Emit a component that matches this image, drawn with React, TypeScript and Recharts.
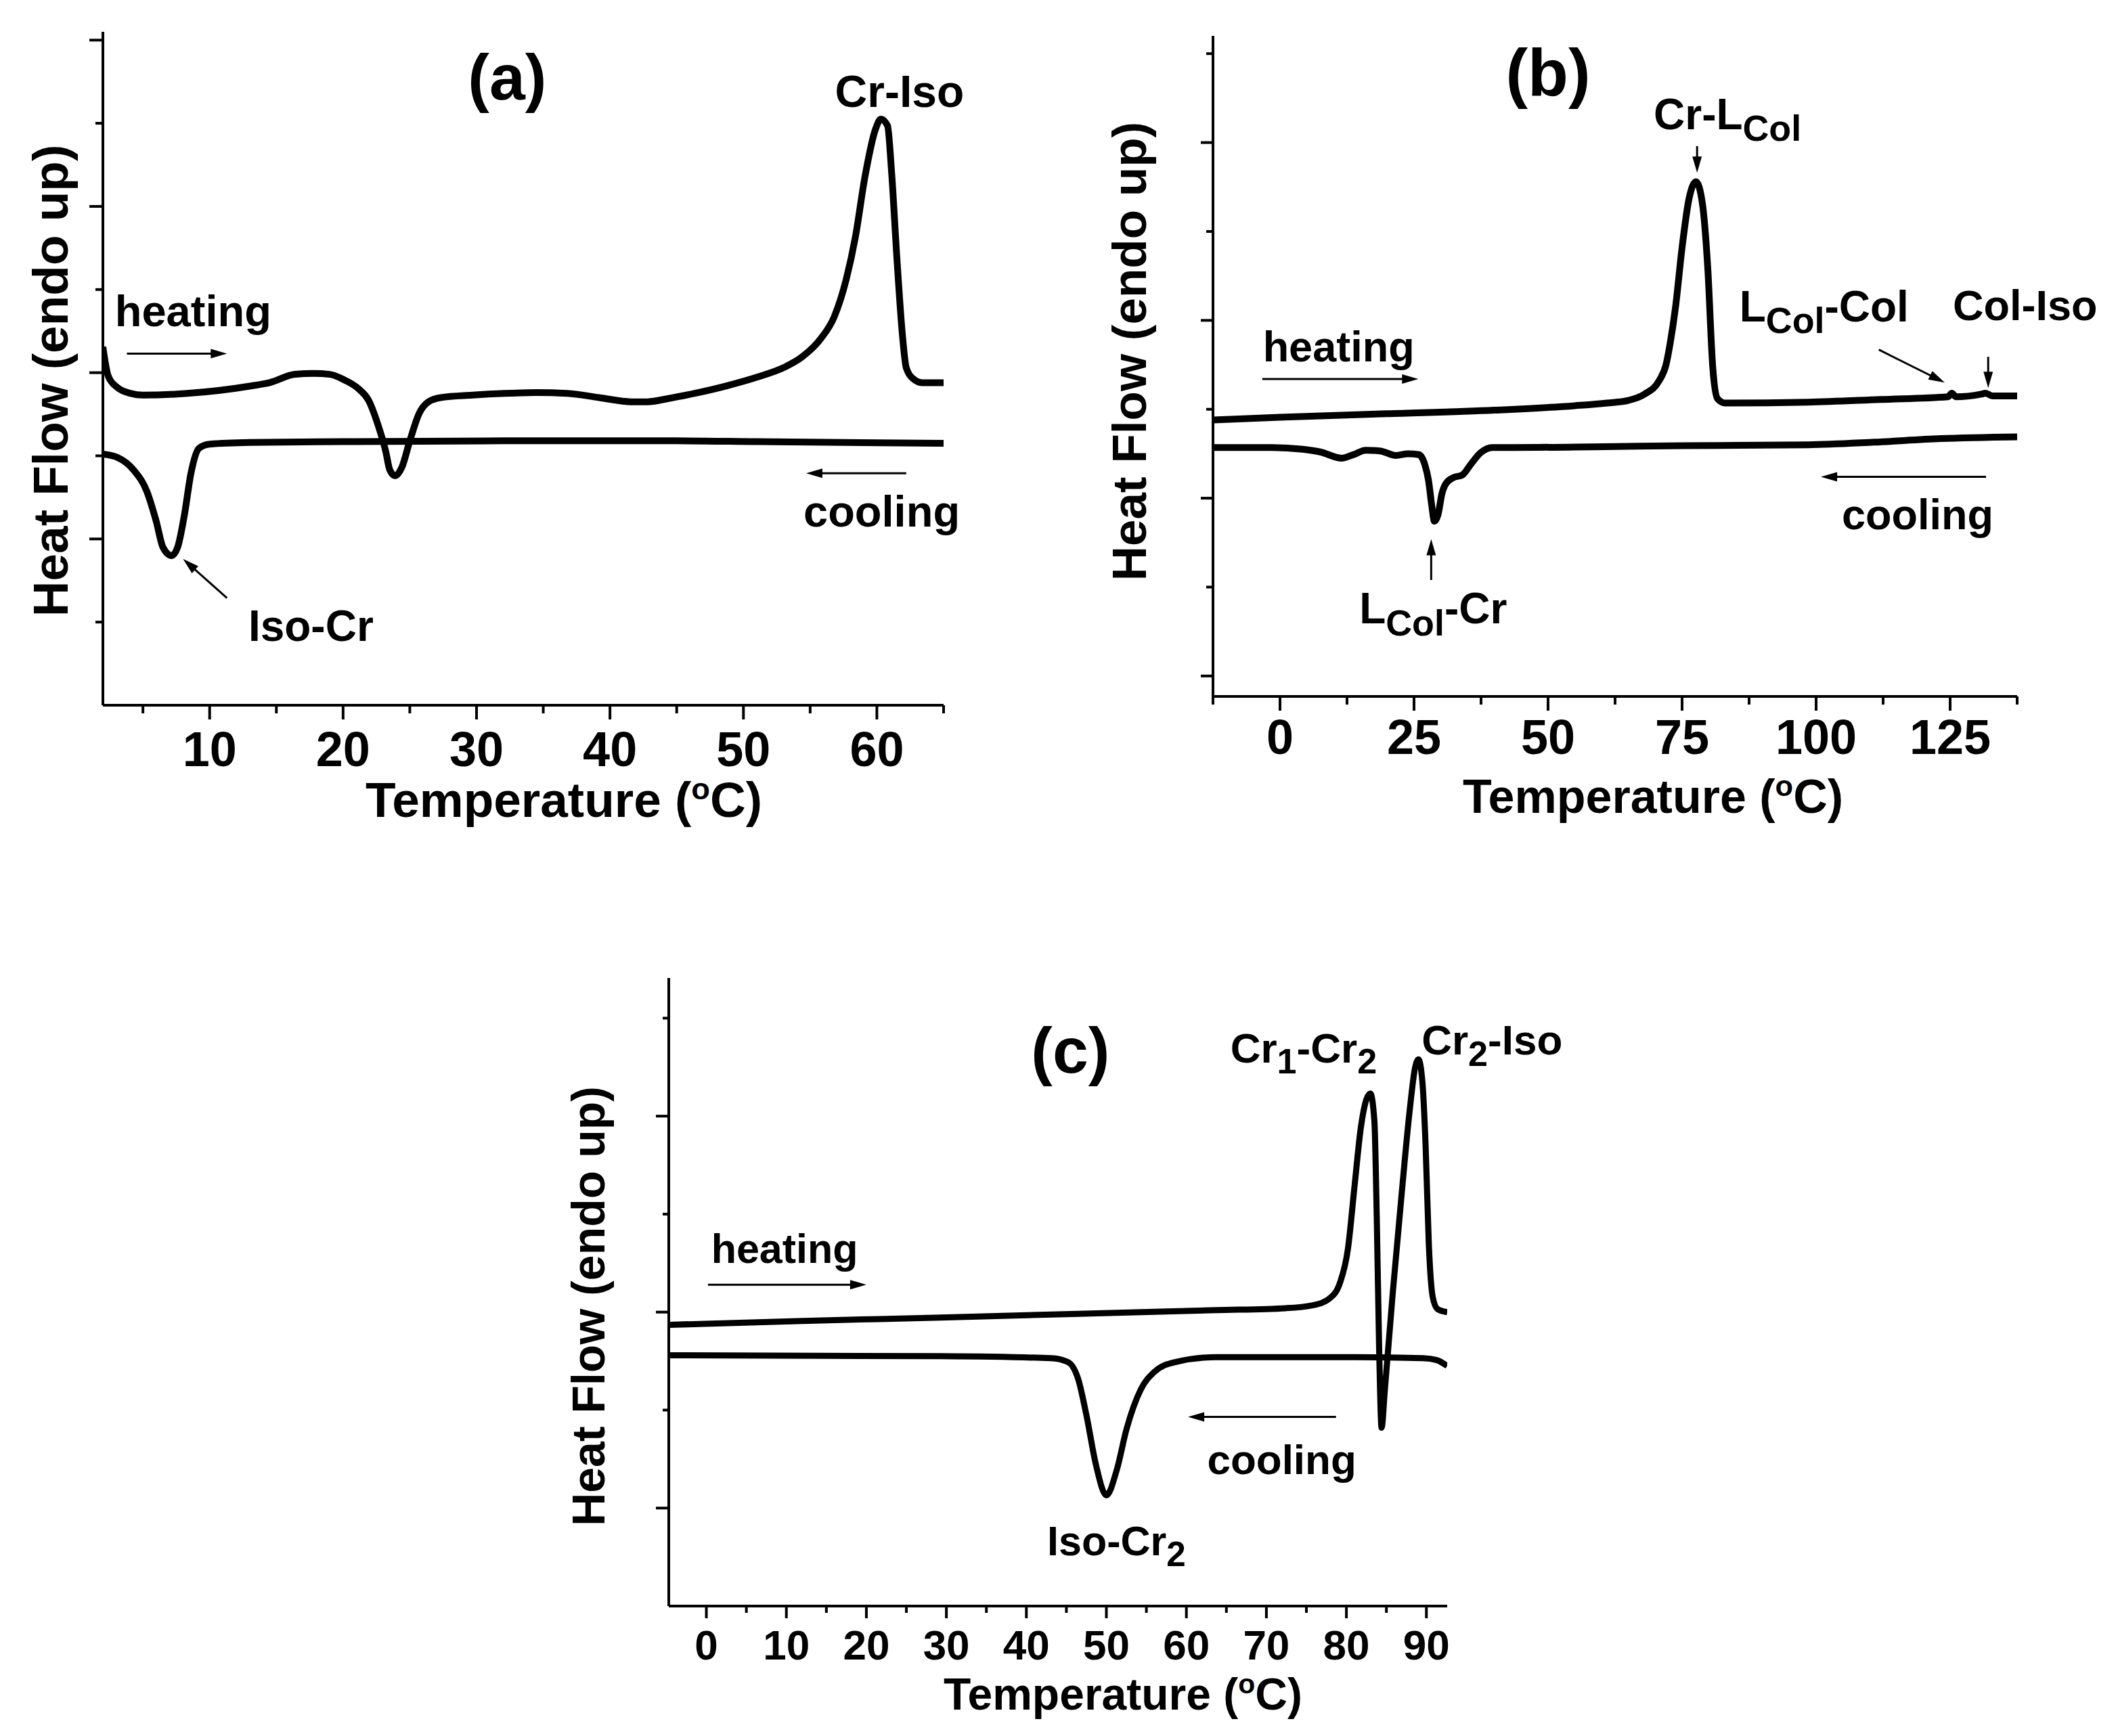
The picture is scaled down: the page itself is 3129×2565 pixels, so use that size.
import React from "react";
import { LineChart, Line, XAxis, YAxis, ReferenceDot, ReferenceLine } from "recharts";

const FONT = "'Liberation Sans', Arial, Helvetica, sans-serif";

// ---------- panel (a) ----------
const aHeatT = [2, 2.4, 3.1, 4.1, 5, 8.3, 13.1, 14.5, 16.4, 17.8, 19, 20, 21.2, 21.9, 22.6, 23.2, 23.5, 23.9, 24.4, 25, 25.7, 26.4, 27.3, 29.7, 32.1, 34.5, 36.8, 39.2, 41.6, 42.8, 44.4, 46.3, 48.7, 51.1, 53, 54.4, 55.8, 56.8, 57.7, 58.4, 59.1, 59.9, 60.3, 60.8, 61.1, 61.5, 61.9, 62.2, 62.7, 63.4, 65];
const aHeatHF = [4.31, 3.96, 3.82, 3.75, 3.73, 3.75, 3.84, 3.88, 3.98, 3.99, 3.98, 3.92, 3.8, 3.67, 3.38, 3.05, 2.83, 2.76, 2.86, 3.18, 3.51, 3.65, 3.7, 3.73, 3.75, 3.76, 3.75, 3.7, 3.65, 3.65, 3.69, 3.75, 3.84, 3.95, 4.06, 4.19, 4.41, 4.67, 5.12, 5.64, 6.35, 6.93, 7.05, 6.97, 6.42, 5.38, 4.48, 4.06, 3.93, 3.88, 3.88];
const aCoolT = [2, 3.1, 4.3, 5.3, 6.0, 6.5, 7.15, 7.6, 8.1, 8.6, 9.2, 10, 13, 20, 32, 45, 51, 65];
const aCoolHF = [3.02, 2.98, 2.83, 2.57, 2.21, 1.9, 1.8, 1.9, 2.28, 2.79, 3.09, 3.14, 3.16, 3.17, 3.18, 3.18, 3.17, 3.15];
const aXTicks = [5, 10, 15, 20, 25, 30, 35, 40, 45, 50, 55, 60, 65];
const aXLabels = [10, 20, 30, 40, 50, 60];
const aYTicks = [1, 2, 3, 4, 5, 6, 7, 8];

// ---------- panel (b) ----------
const bHeatT = [-12.5, 0, 20, 40, 55, 61, 65, 68, 70.7, 72, 72.8, 73.8, 75, 76.3, 77.6, 78.8, 79.8, 80.7, 81.6, 83, 98.5, 112, 124.6, 125.3, 126.1, 130.8, 131.6, 132.9, 137.5];
const bHeatHF = [2.88, 2.91, 2.95, 2.99, 3.04, 3.07, 3.1, 3.17, 3.32, 3.5, 3.75, 4.16, 4.82, 5.37, 5.56, 5.31, 4.58, 3.49, 3.12, 3.07, 3.08, 3.11, 3.14, 3.18, 3.14, 3.17, 3.18, 3.15, 3.15];
const bCoolT = [-12.5, -1.5, 4.2, 7.5, 11.5, 13.7, 16.0, 18.8, 21.6, 23.9, 25.9, 27.0, 27.7, 28.3, 28.8, 29.5, 30.2, 30.9, 32.3, 34.0, 35.7, 37.4, 39.6, 43.6, 60.5, 75.6, 98.5, 110.9, 123.2, 137.5];
const bCoolHF = [2.57, 2.57, 2.55, 2.52, 2.45, 2.49, 2.54, 2.53, 2.48, 2.5, 2.49, 2.38, 2.2, 1.92, 1.74, 1.82, 2.05, 2.16, 2.23, 2.26, 2.39, 2.51, 2.57, 2.57, 2.58, 2.59, 2.6, 2.63, 2.67, 2.69];
const bXTicks = [-12.5, 0, 12.5, 25, 37.5, 50, 62.5, 75, 87.5, 100, 112.5, 125, 137.5];
const bXLabels = [0, 25, 50, 75, 100, 125];
const bYTicks = [0, 1, 2, 3, 4, 5, 6, 7];

// ---------- panel (c) ----------
const cHeatT = [-4.7, 12.1, 29.3, 46.5, 63.7, 72.4, 75.8, 77.9, 79.2, 80.2, 81.0, 81.8, 82.5, 83.0, 83.5, 83.8, 84.1, 84.4, 84.8, 85.8, 86.9, 87.9, 88.6, 89.0, 89.5, 89.9, 90.3, 90.8, 91.4, 92.6];
const cHeatHF = [2.87, 2.91, 2.945, 2.983, 3.02, 3.04, 3.07, 3.14, 3.3, 3.65, 4.27, 4.88, 5.17, 5.23, 4.95, 3.95, 2.6, 1.82, 2.2, 3.2, 4.2, 5.05, 5.5, 5.58, 5.35, 4.7, 3.7, 3.15, 3.03, 3.0];
const cCoolT = [-4.7, 29.3, 43.1, 45.2, 46.5, 47.5, 48.7, 50.0, 51.3, 52.5, 54.3, 56.0, 58.6, 63.7, 81.0, 89.6, 91.3, 92.6];
const cCoolHF = [2.56, 2.55, 2.53, 2.49, 2.31, 1.95, 1.44, 1.13, 1.39, 1.8, 2.21, 2.39, 2.49, 2.54, 2.54, 2.53, 2.51, 2.45];
const cXTicks = [0, 5, 10, 15, 20, 25, 30, 35, 40, 45, 50, 55, 60, 65, 70, 75, 80, 85, 90];
const cXLabels = [0, 10, 20, 30, 40, 50, 60, 70, 80, 90];
const cYTicks = [1, 2, 3, 4, 5, 6];

type Pt = { t: number; hf: number };
const zip = (t: number[], v: number[]): Pt[] => t.map((x, i) => ({ t: x, hf: v[i] }));

// text pieces: "_x" = subscript, "^x" = superscript
type Note = { t: number; v: number; text: string[]; size: number; anchor?: "start" | "middle" };
type Arrow = [number, number, number, number];

function RichText({ x, y, text, size, anchor = "start", rotate = false }: any) {
  let shift = 0;
  return (
    <text
      x={x}
      y={y}
      textAnchor={anchor}
      fontFamily={FONT}
      fontWeight="bold"
      fontSize={size}
      fill="#000"
      transform={rotate ? `rotate(-90 ${x} ${y})` : undefined}
    >
      {text.map((part: string, i: number) => {
        const sub = part.startsWith("_");
        const sup = part.startsWith("^");
        const target = sub ? size * 0.27 : sup ? -size * 0.36 : 0;
        const dy = target - shift;
        shift = target;
        return (
          <tspan key={i} dy={dy} fontSize={sub ? size * 0.84 : sup ? size * 0.62 : size}>
            {sub || sup ? part.slice(1) : part}
          </tspan>
        );
      })}
    </text>
  );
}

const arrowShape = (props: any) => {
  const { x1, y1, x2, y2 } = props;
  const dx = x2 - x1;
  const dy = y2 - y1;
  const len = Math.hypot(dx, dy) || 1;
  const ux = dx / len;
  const uy = dy / len;
  const hl = 24;
  const hw = 7;
  const bx = x2 - ux * hl;
  const by = y2 - uy * hl;
  return (
    <g>
      <line x1={x1} y1={y1} x2={bx + ux * 2} y2={by + uy * 2} stroke="#000" strokeWidth={3} />
      <polygon points={`${x2},${y2} ${bx - uy * hw},${by + ux * hw} ${bx + uy * hw},${by - ux * hw}`} fill="#000" />
    </g>
  );
};

function Panel(p: any) {
  const xTick = (props: any) => {
    const { x, y, payload } = props;
    const major = p.xLabels.includes(payload.value);
    return (
      <g>
        <line x1={x} x2={x} y1={y} y2={y + (major ? p.xLen[0] : p.xLen[1])} stroke="#000" strokeWidth={4} />
        {major && (
          <text x={x} y={y + p.tickDy} textAnchor="middle" fontFamily={FONT} fontWeight="bold" fontSize={p.tickFont} fill="#000">
            {payload.value}
          </text>
        )}
      </g>
    );
  };
  const yTick = (props: any) => {
    const { x, y, payload } = props;
    const long = Math.abs(payload.value % 2) === p.yLongParity;
    return <line x1={x - (long ? p.yLen[0] : p.yLen[1])} x2={x} y1={y} y2={y} stroke="#000" strokeWidth={4} />;
  };
  const xTitle = (lp: any) => {
    const vb = lp.viewBox;
    return <RichText x={vb.x + vb.width / 2 + p.titleDx} y={vb.y + p.titleDy} text={["Temperature (", "^o", "C)"]} size={p.titleFont} anchor="middle" />;
  };
  const yTitle = (lp: any) => {
    const vb = lp.viewBox;
    return <RichText x={p.yTitleX} y={vb.y + vb.height / 2 + p.yTitleDy} text={["Heat Flow (endo up)"]} size={p.yTitleFont} anchor="middle" rotate />;
  };
  return (
    <div style={{ position: "absolute", left: p.left, top: p.top }}>
      <LineChart width={p.width} height={p.height} margin={p.margin}>
        <XAxis
          type="number"
          dataKey="t"
          domain={p.xDomain}
          ticks={p.xTicks}
          interval={0}
          allowDataOverflow
          tickSize={0}
          tickMargin={0}
          tickLine={false}
          axisLine={{ stroke: "#000", strokeWidth: 4 }}
          tick={xTick}
          height={p.height - p.axisY}
          label={xTitle}
        />
        <YAxis
          type="number"
          domain={p.yDomain}
          ticks={p.yTicks}
          interval={0}
          allowDataOverflow
          tickSize={0}
          tickMargin={0}
          tickLine={false}
          axisLine={{ stroke: "#000", strokeWidth: 4 }}
          tick={yTick}
          width={p.yAxisWidth}
          label={yTitle}
        />
        <Line data={p.heat} dataKey="hf" type="monotone" stroke="#000" strokeWidth={p.lineW} strokeLinejoin="round" dot={false} activeDot={false} isAnimationActive={false} />
        <Line data={p.cool} dataKey="hf" type="monotone" stroke="#000" strokeWidth={p.lineW} strokeLinejoin="round" dot={false} activeDot={false} isAnimationActive={false} />
        {p.arrows.map((a: Arrow, i: number) => (
          <ReferenceLine key={"ar" + i} segment={[{ x: a[0], y: a[1] }, { x: a[2], y: a[3] }]} ifOverflow="visible" shape={arrowShape} />
        ))}
        {p.notes.map((n: Note, i: number) => (
          <ReferenceDot
            key={"nt" + i}
            x={n.t}
            y={n.v}
            r={0}
            ifOverflow="visible"
            shape={(dp: any) => <RichText x={dp.cx} y={dp.cy} text={n.text} size={n.size} anchor={n.anchor || "start"} />}
          />
        ))}
      </LineChart>
    </div>
  );
}

const aNotes: Note[] = [
  { t: 32.3, v: 7.29, text: ["(a)"], size: 95, anchor: "middle" },
  { t: 61.7, v: 7.2, text: ["Cr-Iso"], size: 66, anchor: "middle" },
  { t: 2.9, v: 4.56, text: ["heating"], size: 65 },
  { t: 54.5, v: 2.15, text: ["cooling"], size: 65 },
  { t: 12.9, v: 0.77, text: ["Iso-Cr"], size: 64 },
];
const aArrows: Arrow[] = [
  [3.8, 4.23, 11.3, 4.23],
  [62.2, 2.79, 54.7, 2.79],
  [11.3, 1.29, 8.0, 1.76],
];

const bNotes: Note[] = [
  { t: 50.0, v: 6.53, text: ["(b)"], size: 98, anchor: "middle" },
  { t: 69.7, v: 6.15, text: ["Cr-L", "_Col"], size: 64 },
  { t: -3.2, v: 3.54, text: ["heating"], size: 63 },
  { t: 85.7, v: 3.99, text: ["L", "_Col", "-Col"], size: 64 },
  { t: 125.5, v: 4.0, text: ["Col-Iso"], size: 63 },
  { t: 104.8, v: 1.65, text: ["cooling"], size: 63 },
  { t: 14.8, v: 0.59, text: ["L", "_Col", "-Cr"], size: 64 },
];
const bArrows: Arrow[] = [
  [77.8, 5.96, 77.8, 5.66],
  [-3.3, 3.34, 25.8, 3.34],
  [111.7, 3.67, 124.0, 3.3],
  [132.1, 3.59, 132.1, 3.24],
  [131.7, 2.24, 100.9, 2.24],
  [28.2, 1.08, 28.2, 1.54],
];

const cNotes: Note[] = [
  { t: 45.5, v: 5.44, text: ["(c)"], size: 95, anchor: "middle" },
  { t: 65.5, v: 5.55, text: ["Cr", "_1", "-Cr", "_2"], size: 62 },
  { t: 89.4, v: 5.63, text: ["Cr", "_2", "-Iso"], size: 62 },
  { t: 0.6, v: 3.5, text: ["heating"], size: 61 },
  { t: 62.6, v: 1.35, text: ["cooling"], size: 62 },
  { t: 42.6, v: 0.52, text: ["Iso-Cr", "_2"], size: 61 },
];
const cArrows: Arrow[] = [
  [0.2, 3.28, 20.0, 3.28],
  [78.7, 1.93, 60.2, 1.93],
];

export default function App() {
  return (
    <div style={{ position: "absolute", left: 0, top: 0, width: 3129, height: 2565, background: "#fff", overflow: "hidden" }}>
      <Panel
        left={0} top={0} width={1450} height={1250} axisY={1042}
        margin={{ top: 47, right: 56, bottom: 0, left: 0 }} yAxisWidth={152}
        xDomain={[2, 65]} xTicks={aXTicks} xLabels={aXLabels}
        yDomain={[0, 8.1]} yTicks={aYTicks} yLongParity={0}
        heat={zip(aHeatT, aHeatHF)} cool={zip(aCoolT, aCoolHF)}
        notes={aNotes} arrows={aArrows}
        xLen={[21, 12]} yLen={[20, 11]} lineW={10}
        tickFont={72} tickDy={90} titleFont={73} titleDx={60} titleDy={165}
        yTitleFont={73} yTitleX={100} yTitleDy={18}
      />
      <Panel
        left={1600} top={0} width={1529} height={1240} axisY={1029}
        margin={{ top: 53, right: 149, bottom: 0, left: 0 }} yAxisWidth={192}
        xDomain={[-12.5, 137.5]} xTicks={bXTicks} xLabels={bXLabels}
        yDomain={[-0.23, 7.2]} yTicks={bYTicks} yLongParity={0}
        heat={zip(bHeatT, bHeatHF)} cool={zip(bCoolT, bCoolHF)}
        notes={bNotes} arrows={bArrows}
        xLen={[21, 12]} yLen={[18, 10]} lineW={10}
        tickFont={72} tickDy={85} titleFont={70} titleDx={56} titleDy={172}
        yTitleFont={71} yTitleX={93} yTitleDy={-22}
      />
      <Panel
        left={780} top={1380} width={1600} height={1183} axisY={993}
        margin={{ top: 65, right: 242, bottom: 0, left: 0 }} yAxisWidth={208}
        xDomain={[-4.7, 92.6]} xTicks={cXTicks} xLabels={cXLabels}
        yDomain={[0, 6.41]} yTicks={cYTicks} yLongParity={1}
        heat={zip(cHeatT, cHeatHF)} cool={zip(cCoolT, cCoolHF)}
        notes={cNotes} arrows={cArrows}
        xLen={[18, 10]} yLen={[19, 9]} lineW={9}
        tickFont={62} tickDy={79} titleFont={66} titleDx={96} titleDy={153}
        yTitleFont={68} yTitleX={113} yTitleDy={21}
      />
    </div>
  );
}
